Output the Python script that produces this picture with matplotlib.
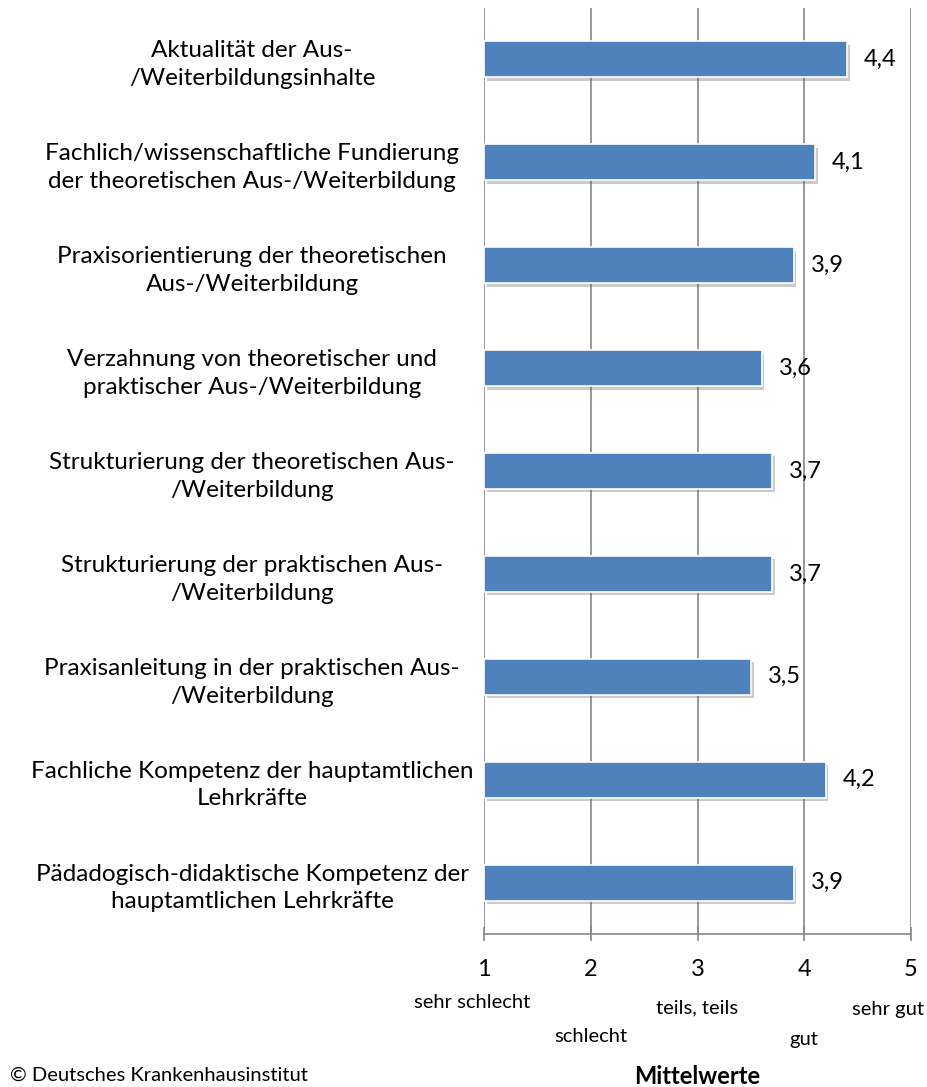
import matplotlib
matplotlib.use('Agg')
import matplotlib.pyplot as plt
import matplotlib.patheffects as pe
import matplotlib.transforms as mtransforms

# Data
categories = [
    "Aktualität der Aus-\n/Weiterbildungsinhalte",
    "Fachlich/wissenschaftliche Fundierung\nder theoretischen Aus-/Weiterbildung",
    "Praxisorientierung der theoretischen\nAus-/Weiterbildung",
    "Verzahnung von theoretischer und\npraktischer Aus-/Weiterbildung",
    "Strukturierung der theoretischen Aus-\n/Weiterbildung",
    "Strukturierung der praktischen Aus-\n/Weiterbildung",
    "Praxisanleitung in der praktischen Aus-\n/Weiterbildung",
    "Fachliche Kompetenz der hauptamtlichen\nLehrkräfte",
    "Pädadogisch-didaktische Kompetenz der\nhauptamtlichen Lehrkräfte",
]
values = [4.4, 4.1, 3.9, 3.6, 3.7, 3.7, 3.5, 4.2, 3.9]
ticks = [1, 2, 3, 4, 5]
scale_labels = ["sehr schlecht", "schlecht", "teils, teils", "gut", "sehr gut"]

plt.rcParams['font.family'] = ['Lato', 'DejaVu Sans']
grid_col = '#868686'
bar_col = '#4F81BD'

fig = plt.figure(figsize=(9.28, 10.87), dpi=100)
ax = fig.add_axes([0.5216, 0.1408, 0.4601, 0.8518])

ypos = list(range(len(categories)))
widths = [v - 1 for v in values]
bars = ax.barh(ypos, widths, left=1, height=0.35, color=bar_col,
               edgecolor='white', linewidth=1.2, zorder=3)
for b in bars:
    b.set_path_effects([pe.SimplePatchShadow(offset=(2, -2.5), shadow_rgbFace='#555555',
                                             alpha=0.3),
                        pe.Normal()])

for y, v in zip(ypos, values):
    ax.text(v + 0.16, y, f"{v:.1f}".replace('.', ','), va='center', ha='left',
            fontsize=17, zorder=4)

ax.set_xlim(1, 5)
ax.set_ylim(len(categories) - 0.5, -0.5)
ax.set_xticks(ticks)
ax.set_xticklabels([str(t) for t in ticks], fontsize=17)
ax.tick_params(axis='x', direction='inout', length=10, width=1.2, color=grid_col, pad=13)
ax.set_yticks(ypos)
ax.set_yticklabels(categories, fontsize=17.5, linespacing=1.4, ha='center')
ax.tick_params(axis='y', length=0, pad=167)
ax.xaxis.grid(True, color=grid_col, linewidth=1.2, zorder=0)
for s in ['top', 'right', 'left']:
    ax.spines[s].set_visible(False)
ax.spines['bottom'].set_color(grid_col)
ax.spines['bottom'].set_linewidth(1.2)

# verbal scale under the ticks, staggered
trans = mtransforms.blended_transform_factory(ax.transData, fig.transFigure)
offsets_y = [1003, 1036, 1008, 1040, 1009]
offsets_x = [-0.11, 0.0, 0.0, 0.0, -0.22]
for t, lab, py, dx in zip(ticks, scale_labels, offsets_y, offsets_x):
    ax.text(t + dx, 1 - py / 1087, lab, transform=trans,
            ha='center', va='center', fontsize=14.5)

fig.text(697 / 928, 1 - 1077 / 1087, "Mittelwerte", ha='center', va='center',
         fontsize=17, fontweight='bold')
fig.text(10 / 928, 1 - 1075 / 1087, "© Deutsches Krankenhausinstitut", ha='left',
         va='center', fontsize=14.5)

fig.savefig('out.png', dpi=100)
